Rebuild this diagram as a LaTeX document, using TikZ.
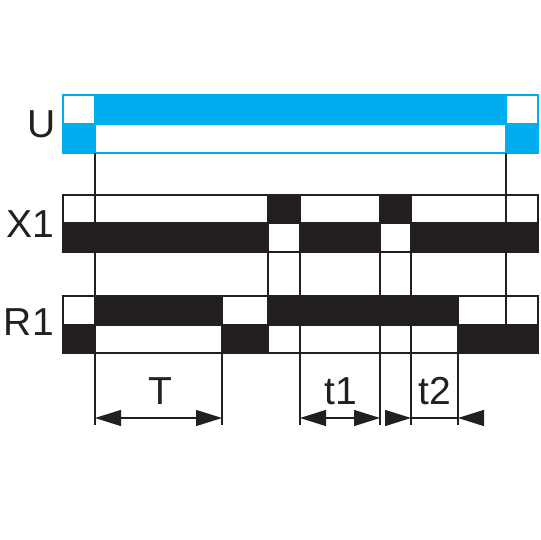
\documentclass[tikz,border=0pt]{standalone}
\usepackage{fontspec}
\setmainfont{Liberation Sans}
\usetikzlibrary{arrows.meta}
\definecolor{ublue}{RGB}{0,174,239}
\definecolor{ink}{RGB}{35,31,32}
\begin{document}
\begin{tikzpicture}[x=1pt,y=-1pt,
  ucell/.style={draw=ublue,line width=2pt},
  bcell/.style={draw=ink,line width=1.7pt},
  vline/.style={draw=ink,line width=1.2pt},
  dimline/.style={draw=ink,line width=1.2pt},
  ahead/.tip={Triangle[length=26pt,width=16pt]},
  lbl/.style={font=\fontsize{39}{39}\selectfont,inner sep=0pt,text=ink},
]
\useasboundingbox (0,0) rectangle (540,540);
% U bar
\fill[ublue] (63,95) rectangle (538,153);
\filldraw[fill=white,ucell] (63,95) rectangle (95,124);
\filldraw[fill=white,ucell] (506,95) rectangle (538,124);
\filldraw[fill=white,ucell] (95,124) rectangle (506,153);
\draw[ucell] (63,95) rectangle (538,153);
% X1
\foreach \a/\b/\f in {63/268/white,268/300/ink,300/380/white,380/411/ink,411/538/white}
  \filldraw[fill=\f,bcell] (\a,195) rectangle (\b,223);
\foreach \a/\b/\f in {63/268/ink,268/300/white,300/380/ink,380/411/white,411/538/ink}
  \filldraw[fill=\f,bcell] (\a,223) rectangle (\b,252);
% R1
\foreach \a/\b/\f in {63/95/white,95/222/ink,222/268/white,268/458/ink,458/538/white}
  \filldraw[fill=\f,bcell] (\a,296) rectangle (\b,325);
\foreach \a/\b/\f in {63/95/ink,95/222/white,222/268/ink,268/458/white,458/538/ink}
  \filldraw[fill=\f,bcell] (\a,325) rectangle (\b,353);
% vertical lines
\coordinate (v95a) at (95,153);   \coordinate (v95b) at (95,425);
\coordinate (v506a) at (506,153); \coordinate (v506b) at (506,353);
\coordinate (v268a) at (268,195); \coordinate (v268b) at (268,353);
\coordinate (v300a) at (300,195); \coordinate (v300b) at (300,425);
\coordinate (v380a) at (380,195); \coordinate (v380b) at (380,425);
\coordinate (v411a) at (411,195); \coordinate (v411b) at (411,425);
\coordinate (v222a) at (222,296); \coordinate (v222b) at (222,425);
\coordinate (v458a) at (458,296); \coordinate (v458b) at (458,425);
\foreach \n in {95,506,268,300,380,411,222,458}
  \draw[vline] (v\n a) -- (v\n b);
% dimension arrows
\coordinate (Ta) at (95,418);  \coordinate (Tb) at (222,418);
\coordinate (t1a) at (300,418); \coordinate (t1b) at (380,418);
\coordinate (t2o) at (386,418); \coordinate (t2a) at (411,418);
\coordinate (t2b) at (458,418); \coordinate (t2p) at (483,418);
\draw[dimline,ahead-ahead] (Ta) -- (Tb);
\draw[dimline,ahead-ahead] (t1a) -- (t1b);
\draw[dimline,-ahead] (t2o) -- (t2a);
\draw[dimline] (t2a) -- (t2b);
\draw[dimline,-ahead] (t2p) -- (t2b);
% labels
\node[lbl,anchor=base east] (lU) at (56,138) {U};
\node[lbl,anchor=base east] (lX) at (54,237) {X1};
\node[lbl,anchor=base east] (lR) at (54,335) {R1};
\node[lbl,anchor=base] (lT) at (160,404) {T};
\node[lbl,anchor=base] (lt1) at (341,404) {t1};
\node[lbl,anchor=base] (lt2) at (435,404) {t2};
\end{tikzpicture}
\end{document}
